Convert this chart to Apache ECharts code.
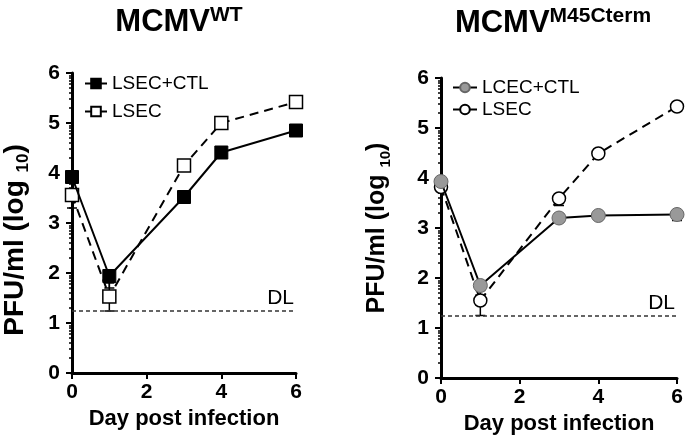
<!DOCTYPE html>
<html>
<head>
<meta charset="utf-8">
<script src="https://cdn.jsdelivr.net/npm/echarts@6/dist/echarts.min.js"></script>
<style>
html,body{margin:0;padding:0;background:#fff;}
#c{width:685px;height:438px;}
</style>
</head>
<body>
<div id="c"></div>
<script>
// ---- data ----
const days = [0, 1, 3, 4, 6];
// Left panel: MCMV WT
const wtCtl  = [3.92, 1.94, 3.52, 4.41, 4.85];
const wtLsec = [3.56, 1.53, 4.15, 5.00, 5.42];
// error bars [low, high] per point (null = not visible)
const wtCtlErr  = [null, [1.70, 1.94], null, null, null];
const wtLsecErr = [[3.30, 3.56], [1.24, 1.80], null, null, null];
// Right panel: MCMV M45Cterm
const mCtl  = [3.93, 1.85, 3.20, 3.25, 3.27];
const mLsec = [3.82, 1.55, 3.59, 4.49, 5.43];
const mCtlErr  = [null, [1.66, 1.85], null, null, [3.15, 3.27]];
const mLsecErr = [null, [1.25, 1.75], [3.45, 3.59], null, null];
const detectionLimit = 1.24;
const dlLabel = 'DL';
const leftTitle = ['MCMV', 'WT'];
const rightTitle = ['MCMV', 'M45Cterm'];
const leftNames = ['LSEC+CTL', 'LSEC'];
const rightNames = ['LCEC+CTL', 'LSEC '];
const xName = 'Day post infection';
const yNameMain = 'PFU/ml (log ';
const yNameSub = '10';

// log-style minor tick positions (axis decoration)
const minorTickVals = [];
for (let n = 0; n < 6; n++) for (let k = 2; k <= 9; k++) minorTickVals.push(+(n + Math.log10(k)).toFixed(4));

const FONT = 'Liberation Sans, Arial, sans-serif';

function pairs(xs, ys) { return xs.map((x, i) => [x, ys[i]]); }
function errData(xs, errs) {
  const out = [];
  errs.forEach((e, i) => { if (e) out.push([xs[i], e[0], e[1]]); });
  return out;
}
function errSeries(gi, data) {
  return {
    type: 'custom', xAxisIndex: gi, yAxisIndex: gi * 2, data: data, z: 2, silent: true,
    renderItem: function (params, api) {
      const x = api.value(0);
      const lo = api.coord([x, api.value(1)]);
      const hi = api.coord([x, api.value(2)]);
      const w = 5;
      const st = { stroke: '#000', lineWidth: 1.5 };
      return { type: 'group', children: [
        { type: 'line', shape: { x1: lo[0], y1: lo[1], x2: hi[0], y2: hi[1] }, style: st },
        { type: 'line', shape: { x1: lo[0] - w, y1: lo[1], x2: lo[0] + w, y2: lo[1] }, style: st },
        { type: 'line', shape: { x1: hi[0] - w, y1: hi[1], x2: hi[0] + w, y2: hi[1] }, style: st }
      ]};
    }
  };
}

const grids = [
  { left: 72, top: 73, width: 224, height: 300, outerBoundsMode: 'none', containLabel: false },
  { left: 441, top: 78, width: 236, height: 300, outerBoundsMode: 'none', containLabel: false }
];

function xAxis(gi) {
  return {
    gridIndex: gi, type: 'value', min: 0, max: 6, interval: 2,
    name: xName, nameLocation: 'middle', nameGap: 34,
    nameTextStyle: { fontFamily: FONT, fontWeight: 'bold', fontSize: 22, color: '#000' },
    axisLine: { onZero: false, lineStyle: { color: '#000', width: 3 } },
    axisTick: { show: true, length: 6, lineStyle: { color: '#000', width: 2 } },
    axisLabel: { fontFamily: FONT, fontWeight: 'bold', fontSize: 21, color: '#000', margin: 9 },
    splitLine: { show: false }
  };
}
function yAxes(gi, nameSize, nameGap, shiftPad) {
  return [{
    gridIndex: gi, type: 'value', min: 0, max: 6, interval: 1,
    name: '{m|' + yNameMain + '}{s|' + yNameSub + '}{m|)}',
    nameLocation: 'middle', nameGap: nameGap, nameRotate: 90,
    nameTextStyle: {
      fontFamily: FONT, fontWeight: 'bold', color: '#000', padding: [0, shiftPad, 0, 0],
      rich: {
        m: { fontFamily: FONT, fontWeight: 'bold', fontSize: nameSize, color: '#000' },
        s: { fontFamily: FONT, fontWeight: 'bold', fontSize: Math.round(nameSize * 0.6), color: '#000', padding: [16, 0, 0, 0], verticalAlign: 'bottom' }
      }
    },
    axisLine: { show: true, lineStyle: { color: '#000', width: 3 } },
    axisTick: { show: true, length: 6, lineStyle: { color: '#000', width: 2 } },
    axisLabel: { fontFamily: FONT, fontWeight: 'bold', fontSize: 21, color: '#000', margin: 12 },
    splitLine: { show: false }
  }, {
    gridIndex: gi, type: 'value', min: 0, max: 6, position: 'left',
    axisLine: { show: false },
    axisTick: { show: true, length: 3, customValues: minorTickVals, lineStyle: { color: '#000', width: 1.5 } },
    axisLabel: { show: false },
    splitLine: { show: false }
  }];
}

function lineSeries(gi, name, data, opts) {
  const s = {
    type: 'line', name: name, xAxisIndex: gi, yAxisIndex: gi * 2, data: data,
    symbol: opts.symbol, symbolSize: opts.size,
    lineStyle: { color: '#000', width: 2, type: opts.dashed ? [9, 6] : 'solid' },
    itemStyle: { color: opts.fill, borderColor: opts.border, borderWidth: opts.bw, opacity: 1 },
    z: opts.z, animation: false
  };
  if (opts.dl) {
    s.markLine = {
      silent: true, symbol: 'none', animation: false,
      data: [{ yAxis: detectionLimit }],
      lineStyle: { color: '#333', width: 1.5, type: [4, 3] },
      label: { show: true, formatter: dlLabel, position: 'insideEndTop', fontFamily: FONT, fontSize: 21, color: '#000', distance: 2 }
    };
  }
  return s;
}

function title(center, top, parts) {
  return {
    text: '{a|' + parts[0] + '}{b|' + parts[1] + '}',
    left: center, top: top, textAlign: 'center',
    textStyle: {
      rich: {
        a: { fontFamily: FONT, fontWeight: 'bold', fontSize: 31, color: '#000', lineHeight: 34 },
        b: { fontFamily: FONT, fontWeight: 'bold', fontSize: 21, color: '#000', verticalAlign: 'top', lineHeight: 20, padding: [0, 0, 0, 0] }
      }
    }
  };
}

const chart = echarts.init(document.getElementById('c'));
const yA = yAxes(0, 28, 40, 34).concat(yAxes(1, 25, 48, 0));
chart.setOption({
  animation: false,
  backgroundColor: '#fff',
  title: [title(174, 0, leftTitle), title(548, 1, rightTitle)],
  legend: [
    {
      data: leftNames, orient: 'vertical', left: 79, top: 69, itemGap: 9, itemWidth: 22, itemHeight: 12,
      textStyle: { fontFamily: FONT, fontSize: 19, color: '#000' }, selectedMode: false
    },
    {
      data: rightNames, orient: 'vertical', left: 447, top: 73, itemGap: 3, itemWidth: 24, itemHeight: 12,
      textStyle: { fontFamily: FONT, fontSize: 19, color: '#000' }, selectedMode: false
    }
  ],
  grid: grids,
  xAxis: [xAxis(0), xAxis(1)],
  yAxis: yA,
  series: [
    errSeries(0, errData(days, wtLsecErr)),
    errSeries(0, errData(days, wtCtlErr)),
    lineSeries(0, leftNames[1], pairs(days, wtLsec), { symbol: 'rect', size: 13, fill: '#fff', border: '#000', bw: 1.5, dashed: true, z: 3 }),
    lineSeries(0, leftNames[0], pairs(days, wtCtl), { symbol: 'rect', size: 13, fill: '#000', border: '#000', bw: 1, dashed: false, z: 4, dl: true }),
    errSeries(1, errData(days, mLsecErr)),
    errSeries(1, errData(days, mCtlErr)),
    lineSeries(1, rightNames[1], pairs(days, mLsec), { symbol: 'circle', size: 13, fill: '#fff', border: '#000', bw: 1.5, dashed: true, z: 3 }),
    lineSeries(1, rightNames[0], pairs(days, mCtl), { symbol: 'circle', size: 14, fill: '#999', border: '#666', bw: 1, dashed: false, z: 4, dl: true })
  ]
});
</script>
</body>
</html>
